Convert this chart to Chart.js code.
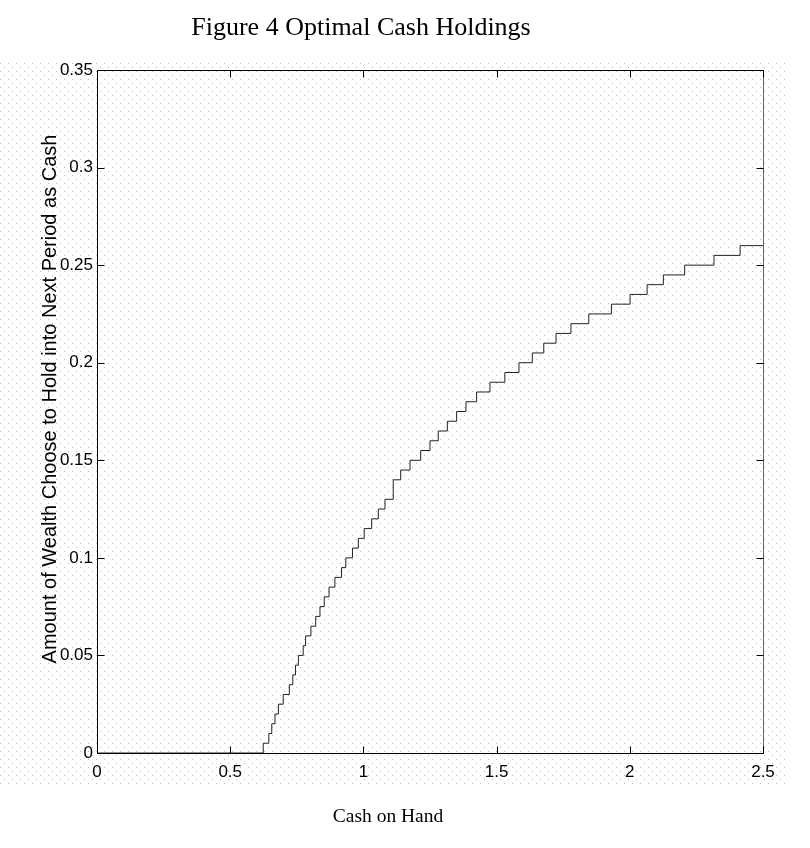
<!DOCTYPE html>
<html><head><meta charset="utf-8">
<script src="https://cdn.jsdelivr.net/npm/chart.js@4.4.0/dist/chart.umd.min.js"></script>
<style>html,body{margin:0;padding:0;background:#fff;}canvas{display:block;}</style>
</head><body>
<canvas id="c" width="810" height="848"></canvas>
<script>
// Step breakpoints: cash on hand where the held amount moves to the next level
const cashOnHand = [0, 0.624, 0.645, 0.656, 0.668, 0.681, 0.699, 0.722, 0.735, 0.745, 0.756,
  0.774, 0.783, 0.803, 0.821, 0.837, 0.853, 0.871, 0.893, 0.918, 0.934,
  0.959, 0.981, 1.003, 1.031, 1.056, 1.081, 1.112, 1.14, 1.175, 1.215,
  1.25, 1.281, 1.315, 1.35, 1.385, 1.425, 1.475, 1.531, 1.584, 1.634,
  1.677, 1.723, 1.779, 1.846, 1.931, 2.001, 2.065, 2.126, 2.206, 2.316, 2.414, 2.5];
const cashHeld = [0, 0.005, 0.01, 0.015, 0.02, 0.025, 0.03, 0.035, 0.04, 0.045, 0.05,
  0.055, 0.06, 0.065, 0.07, 0.075, 0.08, 0.085, 0.09, 0.095, 0.1,
  0.105, 0.11, 0.115, 0.12, 0.125, 0.13, 0.14, 0.145, 0.15, 0.155,
  0.16, 0.165, 0.17, 0.175, 0.18, 0.185, 0.19, 0.195, 0.2, 0.205,
  0.21, 0.215, 0.22, 0.225, 0.23, 0.235, 0.24, 0.245, 0.25, 0.255, 0.26, 0.26];
const xTicks = [0, 0.5, 1, 1.5, 2, 2.5];
const xTickLabels = ['0', '0.5', '1', '1.5', '2', '2.5'];
const yTicks = [0, 0.05, 0.1, 0.15, 0.2, 0.25, 0.3, 0.35];
const yTickLabels = ['0', '0.05', '0.1', '0.15', '0.2', '0.25', '0.3', '0.35'];
const titleText = 'Figure 4 Optimal Cash Holdings';
const xLabel = 'Cash on Hand';
const yLabel = 'Amount of Wealth Choose to Hold into Next Period as Cash';

const tickFont = {family: "'Liberation Sans',Arial,sans-serif", size: 17};

const dotsPlugin = {
  id: 'dots',
  beforeDraw(chart) {
    const ctx = chart.ctx;
    ctx.save();
    ctx.fillStyle = '#bcbcbc';
    let r = 0;
    for (let y = 63; y <= 783; y += 4, r++) {
      for (let x = (r % 2 === 0 ? 0 : 4); x <= 784; x += 8) ctx.fillRect(x, y, 1, 1);
    }
    ctx.restore();
  }
};

const framePlugin = {
  id: 'frame',
  afterDraw(chart) {
    const ctx = chart.ctx;
    const a = chart.chartArea;
    const xs = chart.scales.x, ys = chart.scales.y;
    const L = Math.round(a.left) + 0.5, R = Math.round(a.right) + 0.5;
    const T = Math.round(a.top) + 0.5, B = Math.round(a.bottom) + 0.5;
    ctx.save();
    ctx.lineWidth = 1;
    ctx.strokeStyle = '#000';
    ctx.beginPath();
    ctx.moveTo(R, T); ctx.lineTo(L, T); ctx.lineTo(L, B); ctx.lineTo(R, B);
    ctx.stroke();
    ctx.strokeStyle = '#666';
    ctx.beginPath(); ctx.moveTo(R, T); ctx.lineTo(R, B); ctx.stroke();
    ctx.strokeStyle = '#000';
    const tl = 7;
    ctx.beginPath();
    xTicks.forEach(v => {
      const px = Math.round(xs.getPixelForValue(v)) + 0.5;
      ctx.moveTo(px, B); ctx.lineTo(px, B - tl);
      ctx.moveTo(px, T); ctx.lineTo(px, T + tl);
    });
    yTicks.forEach(v => {
      const py = Math.round(ys.getPixelForValue(v)) + 0.5;
      ctx.moveTo(L, py); ctx.lineTo(L + tl, py);
      ctx.moveTo(R, py); ctx.lineTo(R - tl, py);
    });
    ctx.stroke();
    // texts
    ctx.fillStyle = '#000';
    ctx.textAlign = 'center';
    ctx.textBaseline = 'alphabetic';
    ctx.font = "26px 'Liberation Serif','Times New Roman',serif";
    ctx.fillText(titleText, 361, 35);
    ctx.font = "19.5px 'Liberation Serif','Times New Roman',serif";
    ctx.fillText(xLabel, 388, 822);
    ctx.translate(56, 399);
    ctx.rotate(-Math.PI / 2);
    ctx.font = "20px 'Liberation Sans',Arial,sans-serif";
    ctx.fillText(yLabel, 0, 0);
    ctx.restore();
  }
};

new Chart(document.getElementById('c'), {
  type: 'line',
  data: {
    datasets: [{
      data: cashOnHand.map((x, i) => ({x: x, y: cashHeld[i]})),
      stepped: 'before',
      borderColor: '#222',
      borderWidth: 1,
      pointRadius: 0,
      fill: false
    }]
  },
  options: {
    responsive: false,
    animation: false,
    layout: {padding: {top: 70, right: 47, left: 0, bottom: 0}},
    plugins: {legend: {display: false}, tooltip: {enabled: false}, title: {display: false}},
    scales: {
      x: {
        type: 'linear', min: 0, max: 2.5,
        afterBuildTicks: s => { s.ticks = xTicks.map(v => ({value: v})); },
        ticks: {callback: (v, i) => xTickLabels[i], font: tickFont, color: '#000', padding: 9, maxRotation: 0, autoSkip: false},
        grid: {display: false, drawTicks: false},
        border: {display: false},
        afterFit: s => { s.height = 95; }
      },
      y: {
        type: 'linear', min: 0, max: 0.35,
        afterBuildTicks: s => { s.ticks = yTicks.map(v => ({value: v})); },
        ticks: {callback: (v, i) => yTickLabels[i], font: tickFont, color: '#000', padding: 4, autoSkip: false},
        grid: {display: false, drawTicks: false},
        border: {display: false},
        afterFit: s => { s.width = 97; }
      }
    }
  },
  plugins: [dotsPlugin, framePlugin]
});
</script>
</body></html>
